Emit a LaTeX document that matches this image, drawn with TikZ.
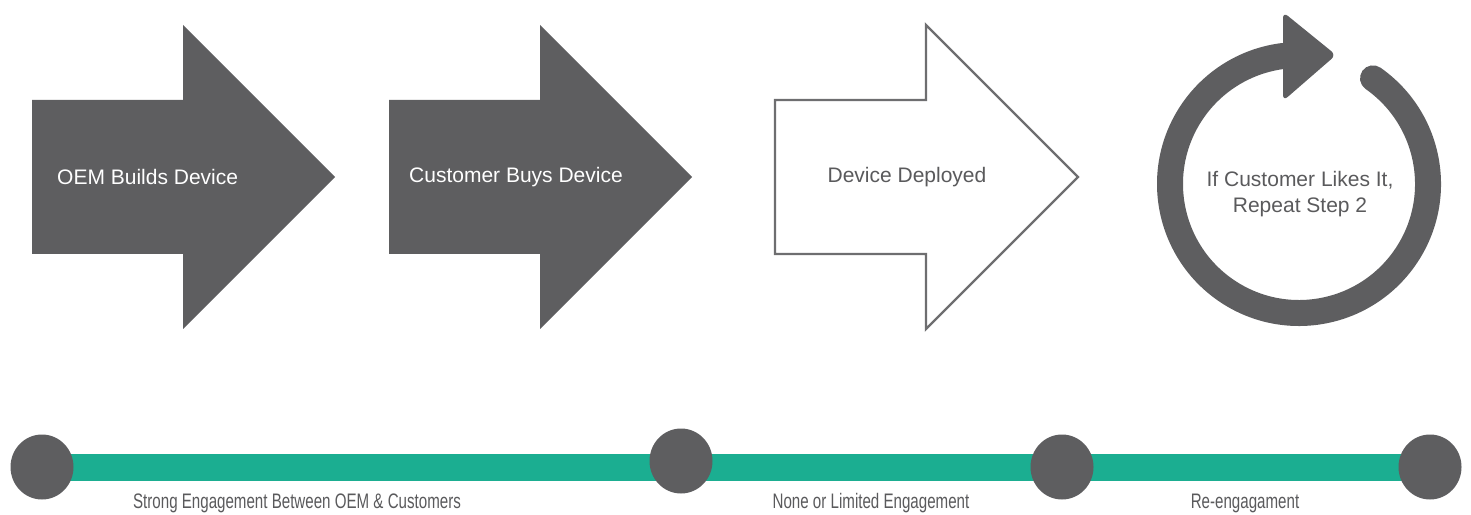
\documentclass[tikz,border=0pt]{standalone}
\usepackage{fontspec}
\setmainfont{Liberation Sans}
\newfontfamily\narrowsans[FakeStretch=0.72]{Liberation Sans}
\usepackage{tikz}
\usetikzlibrary{shapes.geometric,backgrounds}
\definecolor{slate}{RGB}{94,94,96}
\definecolor{teal}{RGB}{27,174,145}
\definecolor{txtgray}{RGB}{90,90,92}
\tikzstyle{solidarr}=[fill=slate]
\tikzstyle{hollowarr}=[draw=slate!90, line width=2.4pt, fill=white, line join=miter]
\tikzstyle{steptxt}=[font=\fontsize{21}{26}\selectfont, inner sep=0pt]
\tikzstyle{dot}=[ellipse, fill=slate, minimum width=63pt, minimum height=65pt, inner sep=0pt]
\tikzstyle{phase}=[font=\narrowsans\fontsize{21}{24}\selectfont, text=txtgray, inner sep=0pt, anchor=base]
\tikzset{fatarrow/.pic={
  \path[pic actions] (0,77) -- (151,77) -- (151,152) -- (303,0) -- (151,-152) -- (151,-77) -- (0,-77) -- cycle;}}

\begin{document}
\begin{tikzpicture}[x=1pt,y=1pt]
    \useasboundingbox (0,0) rectangle (1471,514);
    % the three steps
    \pic[solidarr] at (32,337) {fatarrow};
    \pic[solidarr] at (389,337) {fatarrow};
    \pic[hollowarr] at (775,337) {fatarrow};
    \node [steptxt, text=white, anchor=west] (build) at (57,337) {OEM Builds Device};
    \node [steptxt, text=white, anchor=west] (buy) at (409,337) {Customer Buys Device};
    \node [steptxt, text=txtgray] (deploy) at (907,337) {Device Deployed};
    % repeat loop
    \coordinate (loop) at (1299,330);
    \draw[slate, line width=26pt, line cap=round] (loop) ++(55:129) arc[start angle=55, end angle=-263, radius=129];
    \fill[slate, rounded corners=6pt] (1283,502) -- (1336,459) -- (1283,413) -- cycle;
    \node [steptxt, text=txtgray, align=center] (repeat) at (1300,320) {If Customer Likes It,\\Repeat Step 2};
    % engagement line
    \node [dot] (d1) at (42,47) {};
    \node [dot] (d2) at (681,53) {};
    \node [dot] (d3) at (1062,47) {};
    \node [dot] (d4) at (1430,47) {};
    \begin{scope}[on background layer]
      \draw[teal, line width=27pt] (d1.center) -- (d4.center);
    \end{scope}
    \node [phase] (strong) at (297,6) {Strong Engagement Between OEM \& Customers};
    \node [phase] (none) at (871,6) {None or Limited Engagement};
    \node [phase] (again) at (1245,6) {Re-engagament};
\end{tikzpicture}
\end{document}
